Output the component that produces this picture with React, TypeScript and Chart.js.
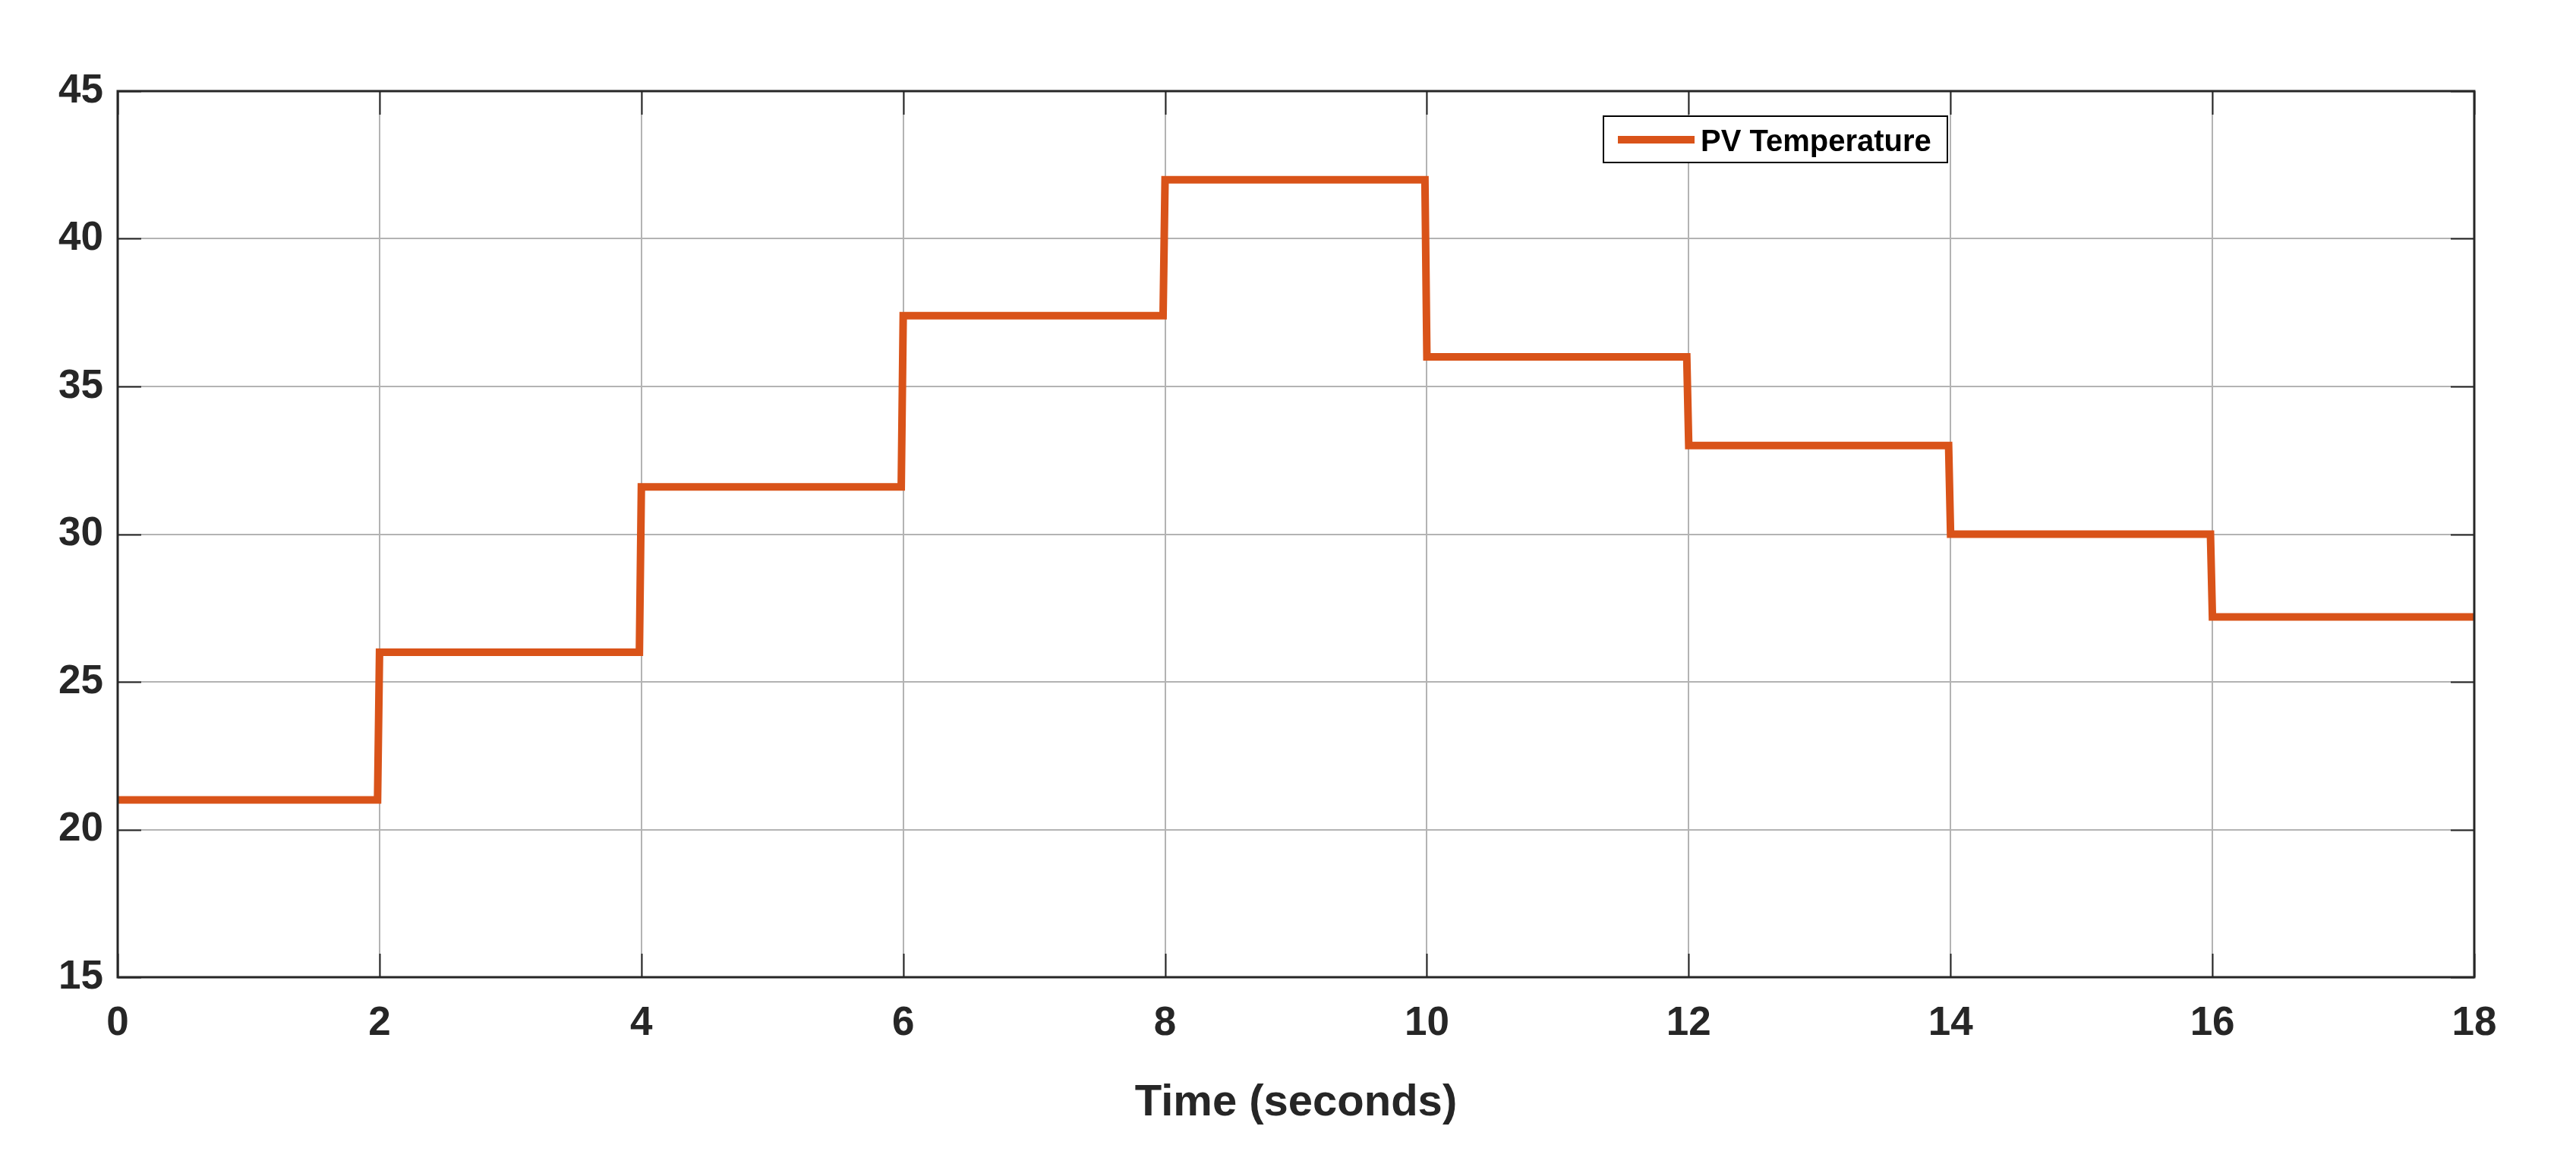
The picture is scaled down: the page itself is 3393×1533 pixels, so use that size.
import React, { useEffect, useRef } from "react";
import { Chart, registerables } from "chart.js";

Chart.register(...registerables);

// ---- data ----
const stepTimes = [0, 2, 4, 6, 8, 10, 12, 14, 16, 18];
const levels = [21, 26, 31.6, 37.4, 42, 36, 33, 30, 27.2];
const rampSeconds = 0.015;
const xTicks = [0, 2, 4, 6, 8, 10, 12, 14, 16, 18];
const yTicks = [15, 20, 25, 30, 35, 40, 45];
const seriesLabel = "PV Temperature";
const xTitle = "Time (seconds)";

const W = 3393;
const H = 1533;
const FONT = "'Liberation Sans', Arial, Helvetica, sans-serif";
const INK = "#262626";
const LINE_COLOR = "#D95319";
const GRID = "#b3b3b3";

function buildPoints() {
  const pts: { x: number; y: number }[] = [];
  for (let i = 0; i < levels.length; i++) {
    const start = stepTimes[i];
    const end = stepTimes[i + 1];
    pts.push({ x: start, y: levels[i] });
    const isLast = i === levels.length - 1;
    pts.push({ x: isLast ? end : end - rampSeconds, y: levels[i] });
  }
  return pts;
}

const framePlugin = {
  id: "matlabFrame",
  afterDraw(chart: any) {
    const { ctx, chartArea } = chart;
    const { left, right, top, bottom } = chartArea;
    const xs = chart.scales.x;
    const ys = chart.scales.y;
    const tl = 31;
    ctx.save();
    // inward tick marks
    ctx.strokeStyle = INK;
    ctx.lineWidth = 2;
    ctx.beginPath();
    xTicks.forEach((v) => {
      const px = Math.round(xs.getPixelForValue(v)) + 0.5;
      ctx.moveTo(px, bottom);
      ctx.lineTo(px, bottom - tl);
      ctx.moveTo(px, top);
      ctx.lineTo(px, top + tl);
    });
    yTicks.forEach((v) => {
      const py = Math.round(ys.getPixelForValue(v)) + 0.5;
      ctx.moveTo(left, py);
      ctx.lineTo(left + tl, py);
      ctx.moveTo(right, py);
      ctx.lineTo(right - tl, py);
    });
    ctx.stroke();
    // axes box
    ctx.lineWidth = 3;
    ctx.strokeStyle = INK;
    ctx.strokeRect(left, top, right - left, bottom - top);

    // x title
    ctx.fillStyle = INK;
    ctx.font = `bold 58px ${FONT}`;
    ctx.textAlign = "center";
    ctx.textBaseline = "alphabetic";
    ctx.fillText(xTitle, (left + right) / 2, 1469);

    // legend
    const bx = 2112, by = 153, bw = 453, bh = 61;
    ctx.fillStyle = "#ffffff";
    ctx.fillRect(bx, by, bw, bh);
    ctx.strokeStyle = "#000000";
    ctx.lineWidth = 2;
    ctx.strokeRect(bx, by, bw, bh);
    ctx.strokeStyle = LINE_COLOR;
    ctx.lineWidth = 10;
    ctx.lineCap = "butt";
    ctx.beginPath();
    ctx.moveTo(2131, 184);
    ctx.lineTo(2232, 184);
    ctx.stroke();
    ctx.fillStyle = "#000000";
    ctx.font = `bold 40px ${FONT}`;
    ctx.textAlign = "left";
    ctx.fillText(seriesLabel, 2240, 199);
    ctx.restore();
  },
};

export default function App() {
  const ref = useRef<HTMLCanvasElement | null>(null);

  useEffect(() => {
    document.body.style.margin = "0";
    const canvas = ref.current;
    if (!canvas) return;
    const chart = new Chart(canvas, {
      type: "scatter",
      data: {
        datasets: [
          {
            label: seriesLabel,
            data: buildPoints(),
            showLine: true,
            borderColor: LINE_COLOR,
            backgroundColor: LINE_COLOR,
            borderWidth: 10,
            pointRadius: 0,
            borderJoinStyle: "miter",
            borderCapStyle: "butt",
            tension: 0,
          } as any,
        ],
      },
      options: {
        responsive: false,
        devicePixelRatio: 1,
        animation: false,
        layout: { padding: { left: 0, top: 120, right: 134, bottom: 0 } },
        plugins: {
          legend: { display: false },
          tooltip: { enabled: false },
          title: { display: false },
        },
        scales: {
          x: {
            type: "linear",
            min: 0,
            max: 18,
            afterFit: (s: any) => {
              s.height = 246;
            },
            afterBuildTicks: (s: any) => {
              s.ticks = xTicks.map((v) => ({ value: v }));
            },
            ticks: {
              color: INK,
              font: { family: FONT, size: 53, weight: "bold" },
              padding: 30,
              maxRotation: 0,
              autoSkip: false,
            },
            grid: { color: GRID, lineWidth: 2, drawTicks: false },
            border: { display: false },
          },
          y: {
            type: "linear",
            min: 15,
            max: 45,
            afterFit: (s: any) => {
              s.width = 155;
            },
            afterBuildTicks: (s: any) => {
              s.ticks = yTicks.map((v) => ({ value: v }));
            },
            ticks: {
              color: INK,
              font: { family: FONT, size: 53, weight: "bold" },
              padding: 19,
              autoSkip: false,
            },
            grid: { color: GRID, lineWidth: 2, drawTicks: false },
            border: { display: false },
          },
        },
      } as any,
      plugins: [framePlugin],
    });
    return () => chart.destroy();
  }, []);

  return <canvas ref={ref} width={W} height={H} style={{ display: "block", width: W, height: H }} />;
}
